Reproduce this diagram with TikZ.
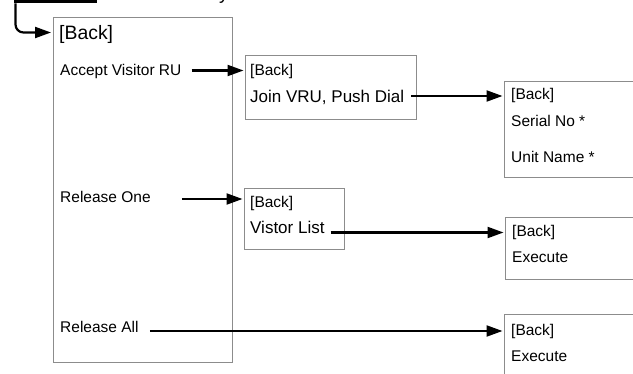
\documentclass[tikz,border=0pt]{standalone}
\usepackage{fontspec}
\setmainfont{Liberation Sans}
\usetikzlibrary{arrows.meta}
\definecolor{boxgray}{HTML}{8C8C8C}
\tikzset{
  boxnode/.style={draw=boxgray, line width=1.1pt, inner sep=0pt, anchor=north west},
  txt/.style={anchor=base west, inner sep=0pt, font=\fontsize{15.5}{18}\selectfont},
  bigtxt/.style={anchor=base west, inner sep=0pt, font=\fontsize{17}{20}\selectfont},
  arr/.style={-{Triangle[length=16pt,width=11pt]}, line width=2.2pt, shorten >=1.5pt},
}
\begin{document}
\begin{tikzpicture}[x=1pt,y=-1pt]
\useasboundingbox (0,0) rectangle (633,374);
\clip (0,0) rectangle (633,374);
% partial items at the top edge
\node[fill=black, inner sep=0pt, minimum width=83pt, minimum height=10pt, anchor=south west] (bar) at (14,3.5) {};
\node[anchor=base west, inner sep=0pt, font=\fontsize{19}{22}\selectfont] (ytail) at (219,-0.8) {y};
% boxes
\node[boxnode, minimum width=179pt, minimum height=345pt] (main) at (52.5,17) {};
\node[boxnode, minimum width=171pt, minimum height=64pt] (box2) at (245,55) {};
\node[boxnode, minimum width=140pt, minimum height=96pt] (box3) at (504,81) {};
\node[boxnode, minimum width=100pt, minimum height=61pt] (box4) at (244,188) {};
\node[boxnode, minimum width=140pt, minimum height=62pt] (box5) at (505,217) {};
\node[boxnode, minimum width=140pt, minimum height=80pt] (box6) at (504,314) {};
% main box texts
\node[anchor=base west, inner sep=0pt, font=\fontsize{19.4}{22}\selectfont] (mback) at (59,39.5) {[Back]};
\node[txt] (acc) at (60,76) {Accept Visitor RU};
\node[txt] (rone) at (60,203) {Release One};
\node[txt] (rall) at (60,333) {Release All};
% box2
\node[txt] (b2back) at (250,76) {[Back]};
\node[bigtxt] (join) at (250,103) {Join VRU, Push Dial};
% box3
\node[txt] (b3back) at (511,100) {[Back]};
\node[txt] (serial) at (511,127) {Serial No *};
\node[txt] (unit) at (511,163) {Unit Name *};
% box4
\node[txt] (b4back) at (250,208) {[Back]};
\node[bigtxt] (vlist) at (250,234) {Vistor List};
% box5
\node[txt] (b5back) at (512,237) {[Back]};
\node[txt] (exec5) at (512,263) {Execute};
% box6
\node[txt] (b6back) at (511,336) {[Back]};
\node[txt] (exec6) at (511,362) {Execute};
% arrow start points
\coordinate (entY) at ([yshift=7pt]mback.base west);
\coordinate (s1) at ([xshift=10pt,yshift=5.5pt]acc.base east);
\coordinate (s2) at ([xshift=7pt,yshift=7pt]join.base east);
\coordinate (s3) at ([xshift=31pt,yshift=4pt]rone.base east);
\coordinate (s4) at ([xshift=6pt,yshift=1.5pt]vlist.base east);
\coordinate (s5) at ([xshift=11pt,yshift=2pt]rall.base east);
% connectors
\draw[arr, rounded corners=8pt] ([xshift=1.5pt]bar.south west) |- (entY -| main.west);
\draw[arr] (s1) -- (s1 -| box2.west);
\draw[arr] (s2) -- (s2 -| box3.west);
\draw[arr] (s3) -- (s3 -| box4.west);
\draw[arr] (s4) -- (s4 -| box5.west);
\draw[arr] (s5) -- (s5 -| box6.west);
\end{tikzpicture}
\end{document}
